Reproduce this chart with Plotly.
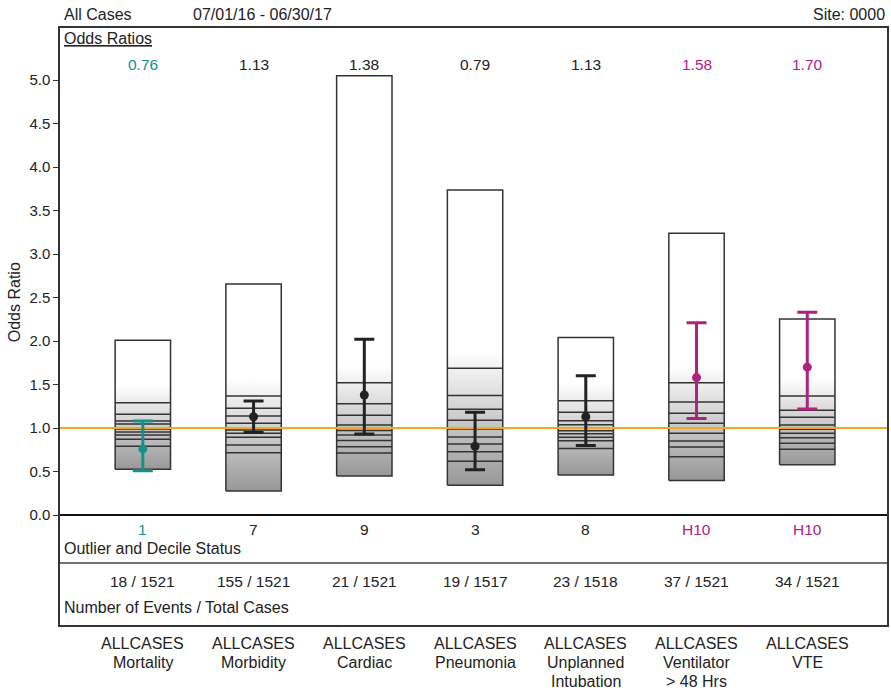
import plotly.graph_objects as go

# ---------------- data ----------------
category_lines = [["ALLCASES", "Mortality"], ["ALLCASES", "Morbidity"], ["ALLCASES", "Cardiac"],
                  ["ALLCASES", "Pneumonia"], ["ALLCASES", "Unplanned", "Intubation"],
                  ["ALLCASES", "Ventilator", "&gt; 48 Hrs"], ["ALLCASES", "VTE"]]
odds_ratio = [0.76, 1.13, 1.38, 0.79, 1.13, 1.58, 1.70]
ci_lower = [0.51, 0.95, 0.93, 0.52, 0.80, 1.11, 1.22]
ci_upper = [1.08, 1.31, 2.02, 1.18, 1.60, 2.21, 2.33]
box_min = [0.525, 0.276, 0.448, 0.341, 0.46, 0.398, 0.578]
box_max = [2.01, 2.655, 5.05, 3.735, 2.04, 3.24, 2.253]
deciles = [
    [0.79, 0.87, 0.92, 0.955, 0.99, 1.045, 1.08, 1.157, 1.29],
    [0.716, 0.805, 0.893, 0.939, 0.977, 1.054, 1.138, 1.226, 1.368],
    [0.713, 0.785, 0.858, 0.92, 0.973, 1.034, 1.146, 1.28, 1.52],
    [0.617, 0.728, 0.816, 0.897, 0.99, 1.088, 1.215, 1.375, 1.686],
    [0.766, 0.854, 0.893, 0.934, 0.969, 1.038, 1.084, 1.18, 1.314],
    [0.67, 0.782, 0.851, 0.939, 1.0, 1.054, 1.169, 1.30, 1.52],
    [0.755, 0.824, 0.889, 0.939, 0.985, 1.034, 1.123, 1.203, 1.368],
]
decile_status = ["1", "7", "9", "3", "8", "H10", "H10"]
events_cases = ["18 / 1521", "155 / 1521", "21 / 1521", "19 / 1517",
                "23 / 1518", "37 / 1521", "34 / 1521"]
flag = ["low", "", "", "", "", "high", "high"]
y_ticks = [0, 0.5, 1, 1.5, 2, 2.5, 3, 3.5, 4, 4.5, 5]
y_ticklabels = ["0.0", "0.5", "1.0", "1.5", "2.0", "2.5", "3.0", "3.5", "4.0", "4.5", "5.0"]
reference_value = 1.0

# ---------------- styles ----------------
TEAL = "#14918a"
MAGENTA = "#b0217f"
DARK = "#222222"
ORANGE = "#f5a623"
EDGE = "#333333"
FONT = "Liberation Sans, Arial, Helvetica, sans-serif"
flag_color = {"low": TEAL, "high": MAGENTA, "": DARK}
HALF = 0.25
X_RANGE = [-0.748, 6.72]
Y_RANGE = [-1.264, 5.598]

fig = go.Figure()
n = len(category_lines)

# boxes with gradient fill
for i in range(n):
    lo, hi = box_min[i], box_max[i]
    fig.add_trace(go.Scatter(
        x=[i - HALF, i + HALF, i + HALF, i - HALF, i - HALF],
        y=[lo, lo, hi, hi, lo],
        mode="lines", fill="toself",
        fillgradient=dict(type="vertical",
                          colorscale=[[0, "#989898"], [1, "#ffffff"]],
                          start=lo, stop=deciles[i][-1] + 0.2),
        line=dict(color=EDGE, width=1.5),
        hoverinfo="skip", showlegend=False))

# decile lines
for i in range(n):
    xs, ys = [], []
    for d in deciles[i]:
        xs += [i - HALF, i + HALF, None]
        ys += [d, d, None]
    fig.add_trace(go.Scatter(x=xs, y=ys, mode="lines",
                             line=dict(color=EDGE, width=1.5),
                             hoverinfo="skip", showlegend=False))

# reference line at OR = 1
fig.add_trace(go.Scatter(x=X_RANGE, y=[reference_value, reference_value], mode="lines",
                         line=dict(color=ORANGE, width=2),
                         hoverinfo="skip", showlegend=False))

# odds ratio points with confidence intervals
for i in range(n):
    c = flag_color[flag[i]]
    fig.add_trace(go.Scatter(
        x=[i], y=[odds_ratio[i]], mode="markers",
        marker=dict(color=c, size=9),
        error_y=dict(type="data", symmetric=False,
                     array=[ci_upper[i] - odds_ratio[i]],
                     arrayminus=[odds_ratio[i] - ci_lower[i]],
                     color=c, thickness=3, width=10),
        showlegend=False))

annotations = []
for i in range(n):
    annotations.append(dict(x=i, y=5.18, xref="x", yref="y", text=f"{odds_ratio[i]:.2f}",
                            showarrow=False, font=dict(size=15.5, color=flag_color[flag[i]], family=FONT)))
    annotations.append(dict(x=i, y=-0.17, xref="x", yref="y", text=decile_status[i],
                            showarrow=False, font=dict(size=15.5, color=flag_color[flag[i]], family=FONT)))
    annotations.append(dict(x=i, y=-0.76, xref="x", yref="y", text=events_cases[i],
                            showarrow=False, font=dict(size=15.5, color=DARK, family=FONT)))
    for k, line_text in enumerate(category_lines[i]):
        annotations.append(dict(x=i, y=0, xref="x", yref="paper", yanchor="middle",
                                yshift=-(18 + 19 * k), text=line_text, showarrow=False,
                                font=dict(size=16, color=DARK, family=FONT)))

annotations += [
    dict(x=0.002, y=5.48, xref="paper", yref="y", xanchor="left", text="<u>Odds Ratios</u>",
         showarrow=False, font=dict(size=16, color=DARK, family=FONT)),
    dict(x=0.002, y=-0.39, xref="paper", yref="y", xanchor="left", text="Outlier and Decile Status",
         showarrow=False, font=dict(size=16, color=DARK, family=FONT)),
    dict(x=0.002, y=-1.06, xref="paper", yref="y", xanchor="left", text="Number of Events / Total Cases",
         showarrow=False, font=dict(size=16, color=DARK, family=FONT)),
    dict(x=0.002, y=1, xref="paper", yref="paper", xanchor="left", yanchor="middle", yshift=14,
         text="All Cases", showarrow=False, font=dict(size=16, color=DARK, family=FONT)),
    dict(x=0.159, y=1, xref="paper", yref="paper", xanchor="left", yanchor="middle", yshift=14,
         text="07/01/16 - 06/30/17", showarrow=False, font=dict(size=16, color=DARK, family=FONT)),
    dict(x=1, y=1, xref="paper", yref="paper", xanchor="right", yanchor="middle", yshift=14,
         text="Site: 0000", showarrow=False, font=dict(size=16, color=DARK, family=FONT)),
    dict(x=-0.054, y=2.45, xref="paper", yref="y", xanchor="center", yanchor="middle", textangle=-90,
         text="Odds Ratio", showarrow=False, font=dict(size=16, color=DARK, family=FONT)),
]

shapes = [
    dict(type="line", xref="paper", yref="y", x0=0, x1=1, y0=-0.552, y1=-0.552,
         line=dict(color="#444444", width=1.5)),
]

fig.update_layout(
    width=891, height=690,
    margin=dict(l=60, r=2, t=28, b=65),
    paper_bgcolor="white", plot_bgcolor="white",
    font=dict(family=FONT, color=DARK, size=15),
    annotations=annotations, shapes=shapes,
    xaxis=dict(range=X_RANGE, showticklabels=False,
               showgrid=False, zeroline=False, showline=True, mirror=True,
               linecolor=EDGE, linewidth=1.5, ticks=""),
    yaxis=dict(range=Y_RANGE, tickvals=y_ticks, ticktext=y_ticklabels,
               showgrid=False, zeroline=True, zerolinecolor="#111111", zerolinewidth=2,
               showline=True, mirror=True, linecolor=EDGE, linewidth=1.5,
               ticks="outside", ticklen=5, tickcolor=EDGE,
               tickfont=dict(size=15, color=DARK, family=FONT)),
)

# remove the default page margin so the 891x690 figure fills the window exactly
fig.write_html("out.html",
               config={"displayModeBar": False},
               post_script="document.body.style.margin='0px';document.body.style.overflow='hidden';")
